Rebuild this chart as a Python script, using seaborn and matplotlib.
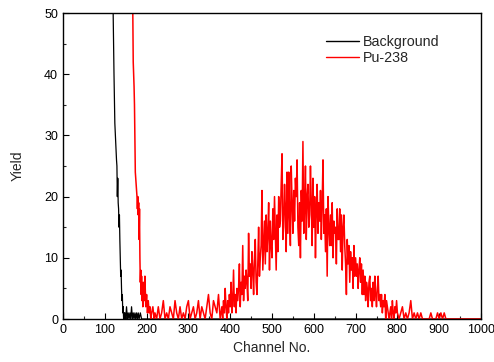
import numpy as np
import pandas as pd
import matplotlib
matplotlib.use("Agg")
import matplotlib.pyplot as plt
import seaborn as sns
from matplotlib.ticker import MultipleLocator

# ---- data ----
bg_channels = [100, 110, 116, 120, 122, 123, 124, 126, 128, 129, 130, 131, 132, 133, 134,
               135, 136, 137, 138, 139, 140, 141, 142, 143, 144, 145, 146, 147, 148, 150,
               152, 154, 156, 158, 160, 162, 164, 166, 168, 170, 172, 174, 176, 178, 180,
               182, 185, 188, 200, 1000]
bg_values = [120, 90, 60, 50, 40, 36, 32, 29, 26, 25, 20, 23, 19, 18, 15,
             17, 13, 10, 7, 8, 5, 3, 4, 1, 2, 0, 1, 0, 1, 0,
             2, 0, 1, 0, 1, 0, 2, 0, 1, 0, 1, 0, 1, 0, 1,
             0, 1, 0, 0, 0]

pu_early_channels = [150, 160, 166, 167, 168, 169, 170, 171, 172, 173, 174, 175, 176, 177,
                     178, 179, 180, 181, 182, 183, 184, 185, 186, 187, 188, 189, 190, 191,
                     192, 194, 196, 198, 200, 202, 204, 206, 208, 210, 212, 215, 218]
pu_early_values = [120, 80, 55, 50, 42, 40, 38, 35, 30, 24, 23, 22, 21, 20,
                   18, 20, 17, 19, 13, 18, 10, 6, 8, 4, 7, 3, 5, 2,
                   6, 3, 7, 2, 4, 1, 3, 1, 2, 0, 1, 2, 0]

# low-count region, every 4 channels from 220
pu_low_start = 220
pu_low_values = [
    1, 0, 2, 0, 1, 3, 0, 1, 0, 2, 1, 0, 3, 1, 0, 2, 0, 1, 0, 2, 3, 0, 1, 2, 0,
    1, 3, 0, 2, 1, 0, 2, 4, 1, 0, 3, 2, 1, 4, 0,
]
# alpha peak region, every 2 channels from 380
pu_peak_start = 380
pu_peak_values = [
    2, 0, 3, 1, 5, 2, 0, 3, 1, 4,
    2, 6, 1, 3, 8, 2, 4, 1, 5, 3,
    5, 9, 2, 6, 4, 12, 3, 7, 5, 8,
    6, 3, 14, 7, 9, 5, 11, 8, 4, 10,
    13, 6, 4, 9, 15, 7, 10, 12, 21, 8,
    12, 16, 9, 17, 11, 14, 19, 8, 16, 12,
    10, 18, 13, 20, 14, 8, 17, 11, 20, 15,
    16, 22, 27, 13, 15, 22, 18, 11, 24, 14,
    24, 17, 12, 25, 19, 14, 21, 16, 23, 20,
    26, 15, 12, 19, 10, 21, 16, 29, 14, 18,
    25, 13, 20, 22, 15, 17, 25, 19, 12, 23,
    15, 20, 10, 18, 22, 14, 19, 16, 21, 13,
    19, 26, 14, 17, 11, 18, 7, 20, 15, 12,
    17, 12, 19, 10, 16, 14, 15, 9, 18, 13,
    13, 18, 11, 17, 8, 15, 17, 12, 9, 4,
    13, 9, 12, 6, 11, 8, 10, 5, 12, 7,
    10, 7, 9, 5, 8, 10, 6, 9, 4, 8,
    4, 7, 3, 6, 5, 2, 6, 7, 3, 5,
    2, 6, 3, 7, 4, 2, 5, 7, 3, 4,
    2, 4, 1, 3, 2, 4, 0, 3, 2, 1,
    0, 1, 2, 0, 3, 1, 0, 2, 1, 3,
    1,
]
# tail region, every 4 channels from 804
pu_tail_start = 804
pu_tail_values = [
    0, 1, 2, 0,
    1, 0, 1, 3, 0, 1, 0, 1, 0, 1, 0, 0, 0, 0, 0, 1, 0, 0, 0, 1, 0, 1, 0, 1, 0,
]
pu_end_channels = [920, 1000]
pu_end_values = [0, 0]

x_ticks = [0, 100, 200, 300, 400, 500, 600, 700, 800, 900, 1000]
y_ticks = [0, 10, 20, 30, 40, 50]

# ---- build table ----
def seg(start, step, vals):
    return list(start + step * np.arange(len(vals)))

pu_channels = (pu_early_channels
               + seg(pu_low_start, 4, pu_low_values)
               + seg(pu_peak_start, 2, pu_peak_values)
               + seg(pu_tail_start, 4, pu_tail_values)
               + pu_end_channels)
pu_values = pu_early_values + pu_low_values + pu_peak_values + pu_tail_values + pu_end_values

df = pd.concat([
    pd.DataFrame({"Channel": bg_channels, "Yield": bg_values, "series": "Background"}),
    pd.DataFrame({"Channel": pu_channels, "Yield": pu_values, "series": "Pu-238"}),
], ignore_index=True)

sns.set_style("ticks")
plt.rcParams["font.family"] = ["Liberation Sans", "DejaVu Sans"]
plt.rcParams["xtick.direction"] = "in"
plt.rcParams["ytick.direction"] = "in"

fig = plt.figure(figsize=(4.94, 3.62), dpi=100)
ax = fig.add_axes([63 / 494, 43 / 362, 418 / 494, 306 / 362])

sns.lineplot(data=df, x="Channel", y="Yield", hue="series",
             palette={"Background": "black", "Pu-238": "red"},
             estimator=None, sort=False, ax=ax, linewidth=1.1)
for line in ax.get_lines():
    if line.get_color() in ("black", "k"):
        line.set_linewidth(0.9)

ax.set_xlim(0, 1000)
ax.set_ylim(0, 50)
ax.set_xticks(x_ticks)
ax.set_yticks(y_ticks)
ax.xaxis.set_minor_locator(MultipleLocator(50))
ax.yaxis.set_minor_locator(MultipleLocator(5))
ax.tick_params(which="major", length=4, width=0.8, labelsize=9, colors="black")
ax.tick_params(which="minor", length=2, width=0.8)
for s in ax.spines.values():
    s.set_visible(True)
    s.set_linewidth(1.0)
    s.set_color("black")

ax.set_xlabel("Channel No.", fontsize=10, labelpad=4)
ax.set_ylabel("Yield", fontsize=10, labelpad=14)

leg = ax.legend(loc="upper left", bbox_to_anchor=((326 - 63) / 418, (319 - 35) / 306),
                frameon=False, fontsize=10.3, handlelength=2.3, handletextpad=0.3,
                labelspacing=0.15, borderpad=0, borderaxespad=0)
for h in leg.get_lines():
    h.set_linewidth(1.0)

fig.savefig("out.png", dpi=100)
